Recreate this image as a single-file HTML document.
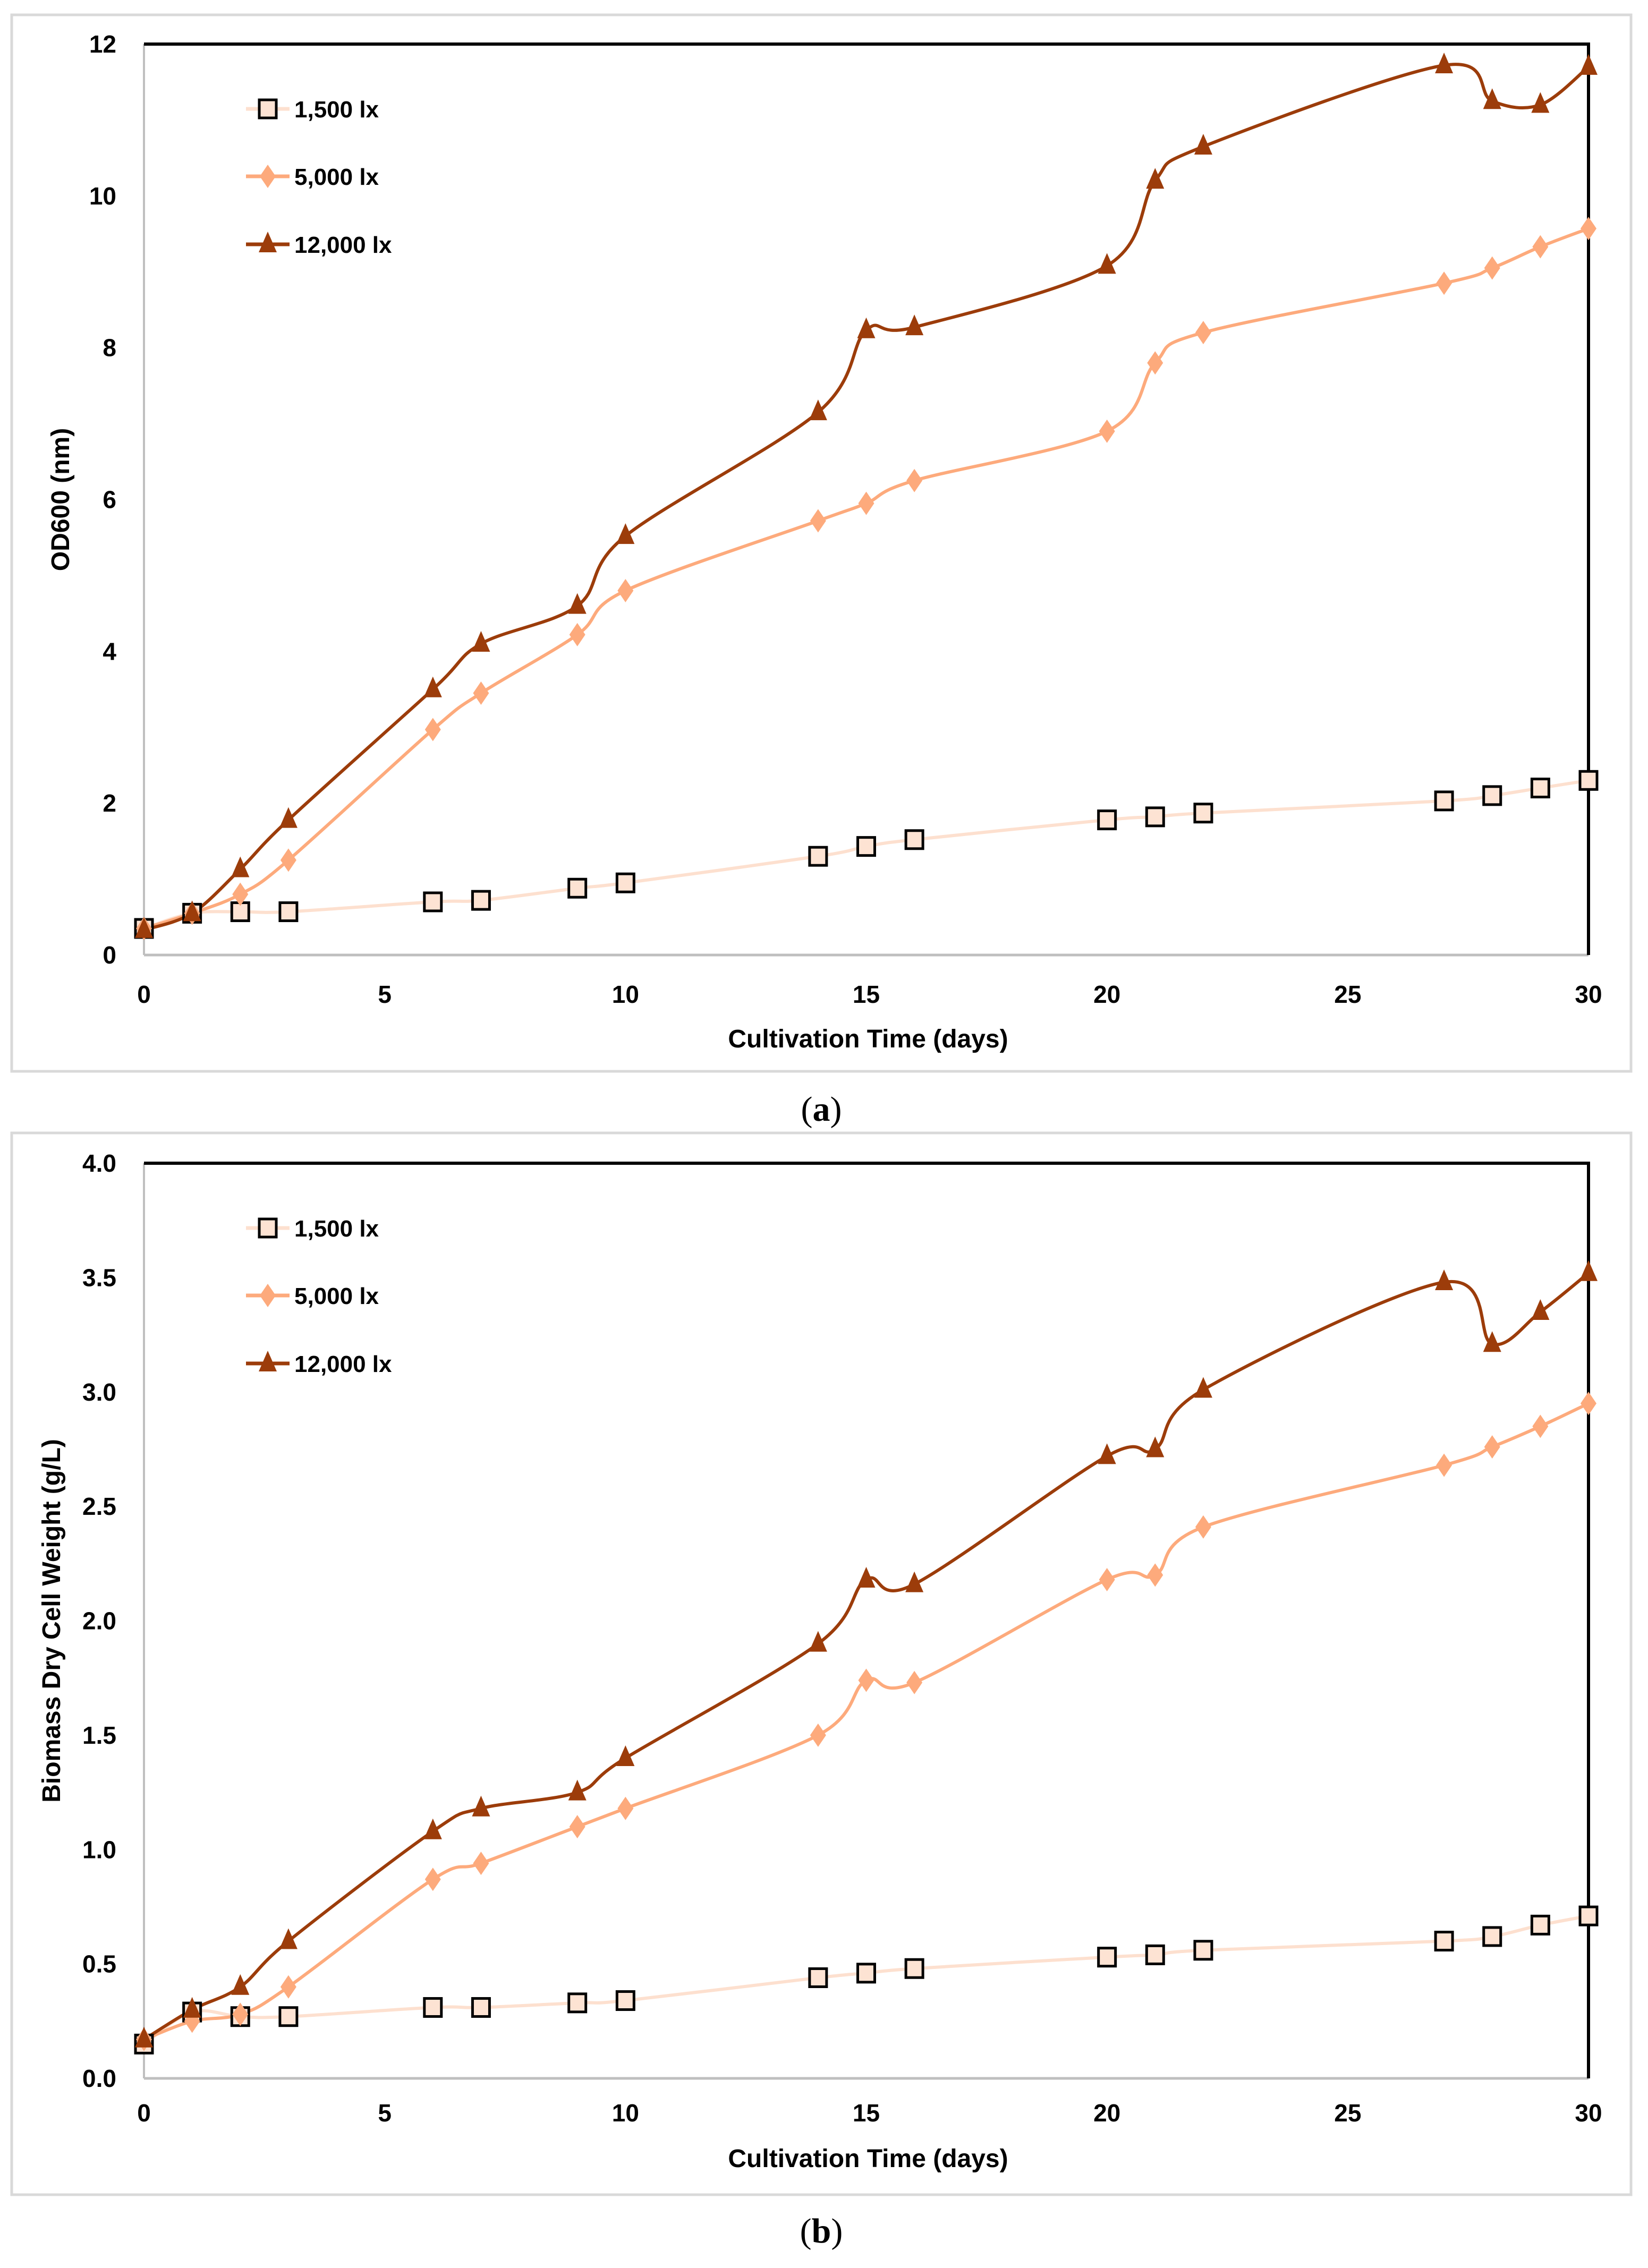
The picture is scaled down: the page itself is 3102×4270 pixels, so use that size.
<!DOCTYPE html>
<html><head><meta charset="utf-8">
<style>
html,body{margin:0;padding:0;background:#fff;}
svg{display:block;}
text{font-family:"Liberation Sans",sans-serif;font-weight:bold;fill:#000;}
</style></head>
<body>
<svg id="fig" width="3102" height="4270" viewBox="0 0 3102 4270" xmlns="http://www.w3.org/2000/svg">
<rect x="22" y="28" width="3048" height="1989" fill="#fff" stroke="#d9d9d9" stroke-width="5"/>
<rect x="22" y="2133" width="3048" height="1999" fill="#fff" stroke="#d9d9d9" stroke-width="5"/>
<text x="1546" y="2110" font-size="66" text-anchor="middle" style="font-family:'Liberation Serif',serif;font-weight:normal">(<tspan font-weight="bold">a</tspan>)</text>
<text x="1546" y="4222" font-size="66" text-anchor="middle" style="font-family:'Liberation Serif',serif;font-weight:normal">(<tspan font-weight="bold">b</tspan>)</text>
<g id="ga"></g>
<g id="gb"></g>
</svg>
<script>
const days = [0,1,2,3,6,7,9,10,14,15,16,20,21,22,27,28,29,30];
const seriesNames = ["1,500 lx","5,000 lx","12,000 lx"];
const odLow = [0.35,0.55,0.57,0.57,0.7,0.72,0.88,0.95,1.3,1.43,1.52,1.78,1.82,1.87,2.03,2.1,2.2,2.3];
const odMid = [0.35,0.55,0.8,1.25,2.97,3.45,4.22,4.8,5.72,5.95,6.25,6.9,7.8,8.2,8.85,9.05,9.33,9.57];
const odHigh = [0.33,0.55,1.13,1.78,3.5,4.1,4.6,5.52,7.15,8.23,8.27,9.08,10.2,10.65,11.72,11.25,11.2,11.7];
const dcwLow = [0.15,0.29,0.27,0.27,0.31,0.31,0.33,0.34,0.44,0.46,0.48,0.53,0.54,0.56,0.6,0.62,0.67,0.71];
const dcwMid = [0.17,0.25,0.28,0.4,0.87,0.94,1.1,1.18,1.5,1.74,1.73,2.18,2.2,2.41,2.68,2.76,2.85,2.95];
const dcwHigh = [0.17,0.3,0.4,0.6,1.08,1.18,1.25,1.4,1.9,2.18,2.16,2.72,2.75,3.01,3.48,3.21,3.35,3.52];
const xTicks = [0,5,10,15,20,25,30];
const odTicks = [0,2,4,6,8,10,12];
const odTickLabels = ["0","2","4","6","8","10","12"];
const dcwTicks = [0,0.5,1,1.5,2,2.5,3,3.5,4];
const dcwTickLabels = ["0.0","0.5","1.0","1.5","2.0","2.5","3.0","3.5","4.0"];

const NS="http://www.w3.org/2000/svg";
const colors=["#fde0cf","#fdaa7c","#9c3c0a"];
function mk(tag,attrs,parent){const e=document.createElementNS(NS,tag);for(const k in attrs)e.setAttribute(k,attrs[k]);parent.appendChild(e);return e;}
function spline(pts){
  let d="M"+pts[0][0]+","+pts[0][1];
  for(let i=0;i<pts.length-1;i++){
    const p0=pts[Math.max(i-1,0)],p1=pts[i],p2=pts[i+1],p3=pts[Math.min(i+2,pts.length-1)];
    const t=1/6;
    const c1=[p1[0]+(p2[0]-p0[0])*t,p1[1]+(p2[1]-p0[1])*t];
    const c2=[p2[0]-(p3[0]-p1[0])*t,p2[1]-(p3[1]-p1[1])*t];
    d+=" C"+c1[0]+","+c1[1]+" "+c2[0]+","+c2[1]+" "+p2[0]+","+p2[1];
  }
  return d;
}
function marker(g,type,cx,cy,nm){
  let e;
  if(type===0){e=mk("rect",{x:cx-16,y:cy-17,width:32,height:34,fill:"#fde3d3",stroke:"#000","stroke-width":5},g);}
  else if(type===1){e=mk("polygon",{points:`${cx},${cy-22} ${cx+15},${cy} ${cx},${cy+22} ${cx-15},${cy}`,fill:colors[1]},g);}
  else {e=mk("polygon",{points:`${cx},${cy-24} ${cx+17},${cy+15} ${cx-17},${cy+15}`,fill:colors[2]},g);}
  
  
}
function chart(gid,pfx,y0,y1,ymax,ticks,tickLabels,series,ytitle,ytitleX,xlabY,xtitleY){
  const g=document.getElementById(gid);
  const X0=271,X1=2990;
  const xs=v=>X0+(X1-X0)*v/30;
  const ys=v=>y0-(y0-y1)*v/ymax;
  let e;
  e=mk("line",{x1:X0,y1:y0,x2:X0,y2:y1,stroke:"#bfbfbf","stroke-width":4},g);
  
  
  e=mk("line",{x1:X0,y1:y0,x2:X1,y2:y0,stroke:"#bfbfbf","stroke-width":5},g);
  
  
  e=mk("polyline",{points:`${X0},${y1} ${X1},${y1} ${X1},${y0}`,fill:"none",stroke:"#000","stroke-width":6},g);
  
  
  ticks.forEach((t,i)=>{
    const tx=mk("text",{x:219,y:ys(t)+16,"font-size":46,"text-anchor":"end"},g);
    tx.textContent=tickLabels[i];
    
    
  });
  xTicks.forEach(t=>{
    const tx=mk("text",{x:xs(t),y:xlabY,"font-size":46,"text-anchor":"middle"},g);
    tx.textContent=String(t);
    
    
  });
  let tt=mk("text",{x:1634,y:xtitleY,"font-size":48,"text-anchor":"middle"},g);
  tt.textContent="Cultivation Time (days)";
  
  
  const cy=(y0+y1)/2;
  tt=mk("text",{x:ytitleX,y:cy,"font-size":48,"text-anchor":"middle",transform:`rotate(-90 ${ytitleX} ${cy})`},g);
  tt.textContent=ytitle;
  
  
  series.forEach((vals,si)=>{
    const pts=days.map((d,i)=>[xs(d),ys(vals[i])]);
    const p=mk("path",{d:spline(pts),fill:"none",stroke:colors[si],"stroke-width":6},g);
    
    
  });
  series.forEach((vals,si)=>{
    days.forEach((d,i)=>marker(g,si,xs(d),ys(vals[i]),pfx+'-point-'+seriesNames[si].replace(/[^0-9]/g,'')+'lx'));
  });
  const ly=[y1+122,y1+249,y1+377];
  seriesNames.forEach((n,si)=>{
    const l=mk("line",{x1:463,y1:ly[si],x2:545,y2:ly[si],stroke:colors[si],"stroke-width":7},g);
    
    
    marker(g,si,504,ly[si],pfx+'-legend-marker');
    const t=mk("text",{x:554,y:ly[si]+16,"font-size":44},g);
    t.textContent=n;
    
    
  });
}
chart("ga","panel-a",1798,83,12,odTicks,odTickLabels,[odLow,odMid,odHigh],"OD600 (nm)",130,1888,1972);
chart("gb","panel-b",3913,2190,4,dcwTicks,dcwTickLabels,[dcwLow,dcwMid,dcwHigh],"Biomass Dry Cell Weight (g/L)",113,3994,4080);
</script>
</body></html>
